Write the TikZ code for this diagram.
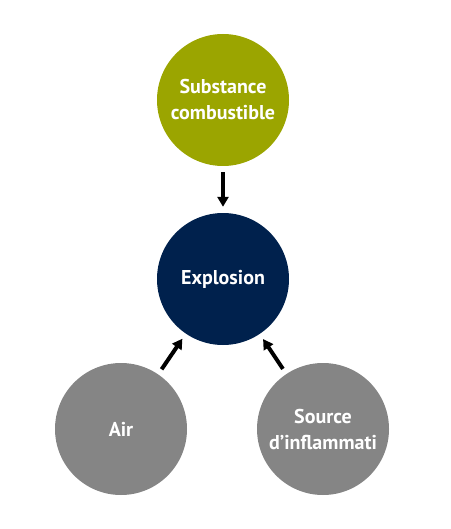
\documentclass[tikz,border=0pt]{standalone}
\usepackage{fontspec}
\setmainfont{PT Sans}
\usetikzlibrary{arrows.meta}
\definecolor{fuel}{RGB}{155,165,0}
\definecolor{blast}{RGB}{0,33,77}
\definecolor{grey}{RGB}{133,133,133}
\begin{document}
\begin{tikzpicture}[x=1pt,y=-1pt,
    element/.style={circle,minimum size=132pt,inner sep=0pt,align=center,text=white,font=\bfseries\fontsize{20}{26}\selectfont},
    arrow/.style={-{Triangle[length=10pt,width=11pt]},line width=4pt,shorten <=6pt,shorten >=6pt}
]
    \useasboundingbox (0,0) rectangle (450,529);

    % Top: fuel
    \node[element,fill=fuel] (fuel) at (223,100) {Substance\\combustible};

    % Middle: result
    \node[element,fill=blast] (explosion) at (223,279) {Explosion};

    % Bottom: air and ignition
    \node[element,fill=grey] (air) at (121,429) {Air};
    \node[element,fill=grey] (ignition) at (323,429) {Source\\d’inflammati};

    % Arrows
    \draw[arrow] (fuel) -- (explosion);
    \draw[arrow] (air) -- (explosion);
    \draw[arrow] (ignition) -- (explosion);
\end{tikzpicture}
\end{document}
